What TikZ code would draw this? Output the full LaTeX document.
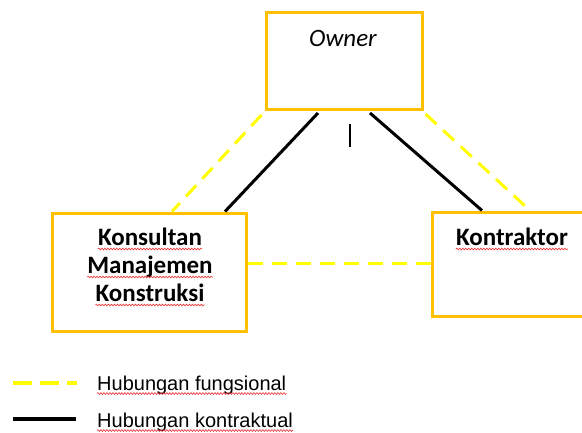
\documentclass[tikz,border=0pt]{standalone}
\usepackage{fontspec}
\setmainfont{Carlito}
\newfontfamily\legendfont{Liberation Sans}
\usetikzlibrary{calc,decorations.pathmorphing}
\definecolor{boxgold}{HTML}{FFC000}
\definecolor{funcyellow}{HTML}{FFFF00}
\definecolor{spellred}{HTML}{E83030}
\begin{document}
\begin{tikzpicture}[x=1bp,y=-1bp,
  party/.style={draw=boxgold, line width=3bp, fill=white, inner sep=0pt},
  label/.style={inner sep=0pt, anchor=base, font=\fontsize{25bp}{28bp}\selectfont\bfseries},
  legendtext/.style={inner sep=0pt, anchor=base west, font=\legendfont\fontsize{20bp}{24bp}\selectfont},
  contract/.style={draw=black, line width=3bp},
  functional/.style={draw=funcyellow, line width=3bp, dash pattern=on 15bp off 9bp},
  wavy/.style={draw=spellred, line width=0.6bp, decorate,
    decoration={snake, amplitude=0.9bp, segment length=3bp}}]
\useasboundingbox (0,0) rectangle (582,432);

% parties
\node[party, minimum width=156bp, minimum height=97bp] (owner) at (344,61) {};
\node[party, minimum width=193bp, minimum height=118bp] (kons) at (149.5,272) {};
\node[party, minimum width=176bp, minimum height=104bp] (kontra) at (520,264) {};

% functional relations
\draw[functional] ($(owner.south west)+(-3,4)$) -- ($(kons.north)+(22.5,0)$);
\draw[functional] ($(owner.south east)+(2,3)$) -- ($(kontra.north)+(10,0)$);
\draw[functional] (kons.east |- 0,263) -- (kontra.west |- 0,263);

% contractual relations
\draw[contract] ($(owner.south)+(-26,2)$) -- ($(kons.north)+(75.5,0)$);
\draw[contract] ($(owner.south)+(26,2)$) -- ($(kontra.north)+(-38,0)$);

% text cursor below the owner box
\coordinate (cursortop) at (349.5,124);
\coordinate (cursorbot) at (349.5,147);
\draw[line width=2bp] (cursortop) -- (cursorbot);

% labels
\node[label, font=\fontsize{25bp}{28bp}\selectfont\itshape] (ownerlbl) at (343,46) {Owner};
\node[label] (k1) at (150,245) {Konsultan};
\node[label] (k2) at (150,273) {Manajemen};
\node[label] (k3) at (150,301) {Konstruksi};
\node[label] (kt) at (512,245) {Kontraktor};

% spelling marks under the words
\foreach \n in {k1,k2,k3,kt}
  \draw[wavy] ($(\n.base west)+(0,4)$) -- ($(\n.base east)+(0,4)$);

% legend
\coordinate (fa) at (13,383);
\coordinate (fb) at (77,383);
\coordinate (ca) at (13,419);
\coordinate (cb) at (76,419);
\draw[draw=funcyellow, line width=4bp, dash pattern=on 19bp off 8bp] (fa) -- (fb);
\draw[draw=black, line width=4bp] (ca) -- (cb);
\node[legendtext] (lf) at (97,390) {Hubungan fungsional};
\node[legendtext] (lc) at (97,427) {Hubungan kontraktual};
\draw[wavy] ($(lf.base west)+(0,3.5)$) -- ($(lf.base east)+(0,3.5)$);
\draw[wavy] ($(lc.base west)+(0,3.5)$) -- ($(lc.base east)+(0,3.5)$);
\end{tikzpicture}
\end{document}
